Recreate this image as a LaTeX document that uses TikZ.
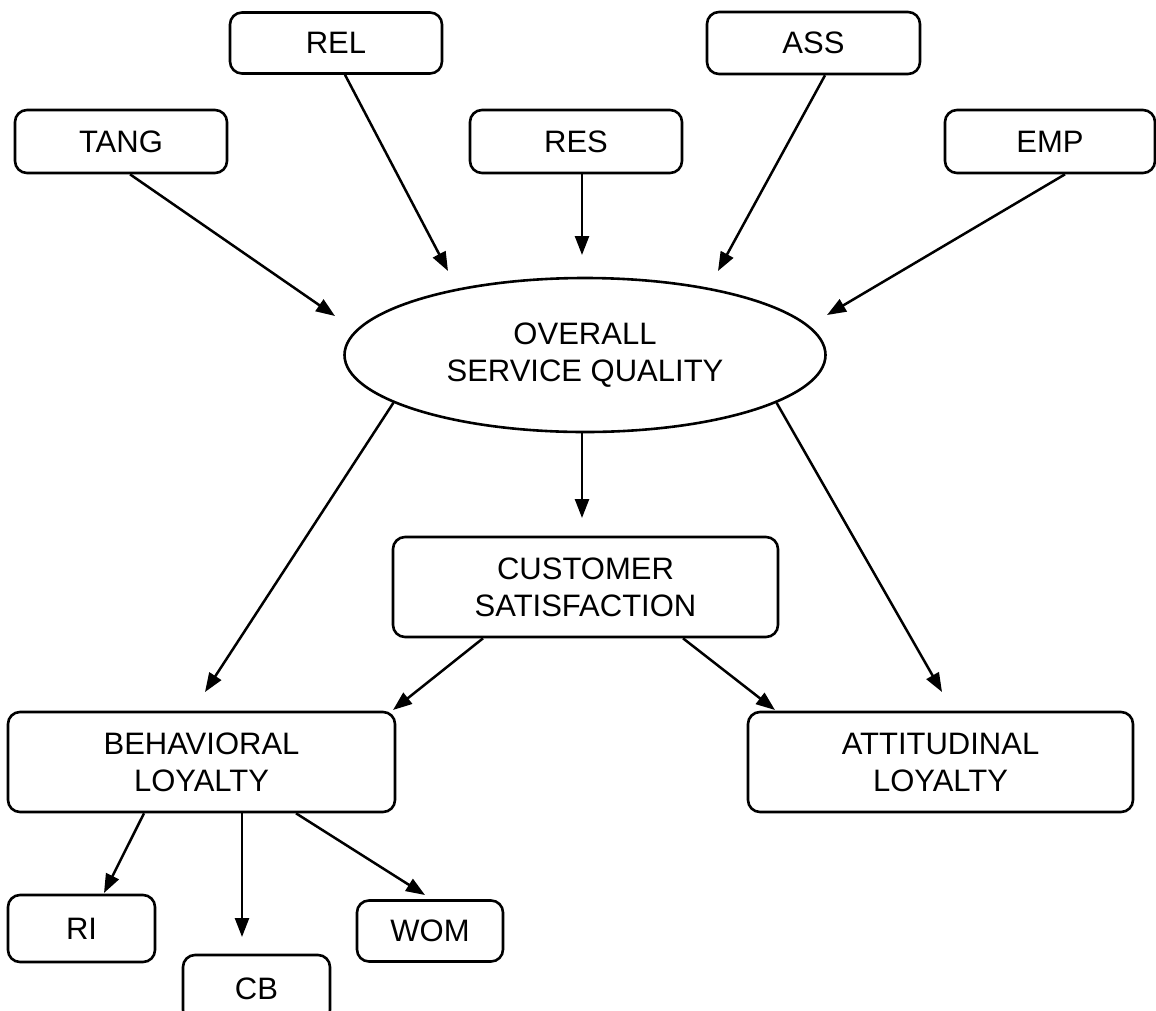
\documentclass[tikz,border=0pt]{standalone}
\usepackage{fontspec}
\setmainfont{Liberation Sans}
\usetikzlibrary{arrows.meta,shapes.geometric}

\tikzset{
  box/.style={draw, line width=2.6pt, rounded corners=12pt, rectangle,
              inner sep=0pt, align=center,
              font=\fontsize{31pt}{37pt}\selectfont},
  oval/.style={draw, line width=2.6pt, ellipse, inner sep=0pt, align=center,
               font=\fontsize{31pt}{37pt}\selectfont},
  link/.style={line width=2.5pt, -{Triangle[length=19pt,width=14pt]}}
}

\begin{document}
\begin{tikzpicture}[x=1pt, y=-1pt]
  \useasboundingbox (0,0) rectangle (1156,1010);

  % SERVQUAL dimensions
  \node[box, minimum width=212pt, minimum height=63pt] (tang) at (121,141.5) {TANG};
  \node[box, minimum width=212pt, minimum height=61pt] (rel)  at (336,43)    {REL};
  \node[box, minimum width=212pt, minimum height=63pt] (res)  at (576,141.5) {RES};
  \node[box, minimum width=213pt, minimum height=62pt] (ass)  at (813.5,43)  {ASS};
  \node[box, minimum width=210pt, minimum height=63pt] (emp)  at (1050,141.5) {EMP};

  % overall construct
  \node[oval, minimum width=481pt, minimum height=154pt] (osq) at (585,355)
       {OVERALL\\SERVICE QUALITY};

  \node[box, minimum width=385pt, minimum height=100pt] (cs)  at (585.5,587) {CUSTOMER\\SATISFACTION};
  \node[box, minimum width=387pt, minimum height=100pt] (beh) at (201.5,762) {BEHAVIORAL\\LOYALTY};
  \node[box, minimum width=385pt, minimum height=100pt] (att) at (940.5,762) {ATTITUDINAL\\LOYALTY};

  % behavioral loyalty indicators
  \node[box, minimum width=147pt, minimum height=67pt] (ri)  at (81.5,928.5) {RI};
  \node[box, minimum width=147pt, minimum height=67pt] (cb)  at (256.5,988.5) {CB};
  \node[box, minimum width=146pt, minimum height=61pt] (wom) at (430,931) {WOM};

  % arrow tips
  \coordinate (tangtip) at (335,316);
  \coordinate (reltip)  at (448,271);
  \coordinate (restip)  at (582,255);
  \coordinate (asstip)  at (718,271);
  \coordinate (emptip)  at (827,315);
  \coordinate (cstip)   at (582,518);
  \coordinate (behtip)  at (205,692);
  \coordinate (atttip)  at (942,692);
  \coordinate (csbtip)  at (393,710);
  \coordinate (csatip)  at (775,710);
  \coordinate (ritip)   at (104,893);
  \coordinate (cbtip)   at (242,937);
  \coordinate (womtip)  at (425,895);

  % connectors
  \draw[link] ([xshift=9pt]tang.south)  -- (tangtip);
  \draw[link] ([xshift=9pt]rel.south)   -- (reltip);
  \draw[link] ([xshift=6pt]res.south)   -- (restip);
  \draw[link] ([xshift=11.5pt]ass.south) -- (asstip);
  \draw[link] ([xshift=15pt]emp.south)  -- (emptip);

  \draw[link] ([xshift=-3pt]osq.south) -- (cstip);
  \draw[link] (osq.194.3)  -- (behtip);
  \draw[link] (osq.-14.3)  -- (atttip);

  \draw[link] ([xshift=-102.5pt]cs.south) -- (csbtip);
  \draw[link] ([xshift=97.5pt]cs.south)   -- (csatip);

  \draw[link] ([xshift=-57.5pt]beh.south) -- (ritip);
  \draw[link] ([xshift=40.5pt]beh.south)  -- (cbtip);
  \draw[link] ([xshift=94.5pt]beh.south)  -- (womtip);
\end{tikzpicture}
\end{document}
